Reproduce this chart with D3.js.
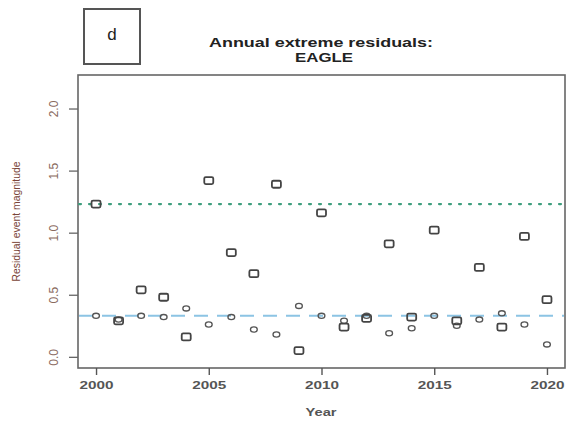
<!DOCTYPE html>
<html>
<head>
<meta charset="utf-8">
<script src="https://cdn.jsdelivr.net/npm/d3@7"></script>
<style>
  html, body { margin: 0; padding: 0; background: #fff; }
  svg { display: block; }
</style>
</head>
<body>
<div id="chart"></div>
<script>
// Annual extreme residuals at the EAGLE site, one value per year for each statistic
const years = [2000, 2001, 2002, 2003, 2004, 2005, 2006, 2007, 2008, 2009, 2010,
               2011, 2012, 2013, 2014, 2015, 2016, 2017, 2018, 2019, 2020];
const squareValues = [1.23, 0.29, 0.54, 0.48, 0.16, 1.42, 0.84, 0.67, 1.39, 0.05, 1.16,
                      0.24, 0.31, 0.91, 0.32, 1.02, 0.29, 0.72, 0.24, 0.97, 0.46];
const circleValues = [0.33, 0.30, 0.33, 0.32, 0.39, 0.26, 0.32, 0.22, 0.18, 0.41, 0.33,
                      0.29, 0.33, 0.19, 0.23, 0.33, 0.25, 0.30, 0.35, 0.26, 0.10];
const upperLevel = 1.23;   // dotted reference line
const lowerLevel = 0.33;   // dashed reference line
const xTicks = [2000, 2005, 2010, 2015, 2020];
const yTicks = [0.0, 0.5, 1.0, 1.5, 2.0];

const W = 567, H = 421;
const box = { left: 78, right: 565, top: 75, bottom: 368 };

const svg = d3.select("#chart").append("svg")
  .attr("width", W).attr("height", H);

const x = d3.scaleLinear().domain([1999.2, 2020.8]).range([box.left, box.right]);
const y = d3.scaleLinear().domain([-0.09, 2.27]).range([box.bottom, box.top]);

// panel letter
svg.append("rect")
  .attr("x", 84).attr("y", 9).attr("width", 56).attr("height", 55)
  .attr("fill", "none").attr("stroke", "#555").attr("stroke-width", 2);
svg.append("text")
  .attr("x", 112).attr("y", 40).attr("text-anchor", "middle")
  .attr("font-family", "Liberation Sans, Arial, sans-serif")
  .attr("font-size", 17).attr("fill", "#222").text("d");

// title
const titleFont = "Liberation Sans, Arial, sans-serif";
svg.append("text")
  .attr("x", 321).attr("y", 47).attr("text-anchor", "middle")
  .attr("font-family", titleFont).attr("font-weight", "bold")
  .attr("font-size", 12.5).attr("fill", "#222")
  .attr("textLength", 224).attr("lengthAdjust", "spacingAndGlyphs")
  .text("Annual extreme residuals:");
svg.append("text")
  .attr("x", 324).attr("y", 62).attr("text-anchor", "middle")
  .attr("font-family", titleFont).attr("font-weight", "bold")
  .attr("font-size", 12.5).attr("fill", "#222")
  .attr("textLength", 58).attr("lengthAdjust", "spacingAndGlyphs")
  .text("EAGLE");

// plot frame
svg.append("rect")
  .attr("x", box.left).attr("y", box.top)
  .attr("width", box.right - box.left).attr("height", box.bottom - box.top)
  .attr("fill", "none").attr("stroke", "#666").attr("stroke-width", 1.6);

// x axis
const xAxis = d3.axisBottom(x).tickValues(xTicks).tickFormat(d3.format("d"))
  .tickSize(7).tickPadding(6);
const gx = svg.append("g").attr("transform", `translate(0,${box.bottom})`).call(xAxis);
gx.select(".domain").remove();
gx.selectAll(".tick line").attr("stroke", "#555").attr("stroke-width", 1.4);
gx.selectAll(".tick text")
  .attr("font-family", titleFont).attr("font-weight", "bold")
  .attr("font-size", 11).attr("fill", "#555")
  .attr("textLength", 34).attr("lengthAdjust", "spacingAndGlyphs");

// y axis with vertical tick labels
const yAxis = d3.axisLeft(y).tickValues(yTicks).tickFormat(d3.format(".1f"))
  .tickSize(9).tickPadding(0);
const gy = svg.append("g").attr("transform", `translate(${box.left},0)`).call(yAxis);
gy.select(".domain").remove();
gy.selectAll(".tick line").attr("stroke", "#666").attr("stroke-width", 1.3);
gy.selectAll(".tick text")
  .attr("x", null).attr("dy", null)
  .attr("transform", "translate(-24,0) rotate(-90)")
  .attr("text-anchor", "middle")
  .attr("dominant-baseline", "central")
  .attr("font-family", "Liberation Sans Narrow, Arial Narrow, sans-serif")
  .attr("font-size", 12).attr("fill", "#8a6a5e");

// axis titles
svg.append("text")
  .attr("x", 321).attr("y", 416).attr("text-anchor", "middle")
  .attr("font-family", titleFont).attr("font-weight", "bold")
  .attr("font-size", 11).attr("fill", "#555")
  .attr("textLength", 31).attr("lengthAdjust", "spacingAndGlyphs")
  .text("Year");
svg.append("text")
  .attr("transform", `translate(20,${(box.top + box.bottom) / 2}) rotate(-90)`)
  .attr("text-anchor", "middle")
  .attr("font-family", "Liberation Sans Narrow, Arial Narrow, sans-serif")
  .attr("font-size", 11).attr("fill", "#7a4438")
  .attr("textLength", 120).attr("lengthAdjust", "spacingAndGlyphs")
  .text("Residual event magnitude");

// reference levels
svg.append("line")
  .attr("x1", box.left + 1).attr("x2", box.right - 1)
  .attr("y1", y(upperLevel)).attr("y2", y(upperLevel))
  .attr("stroke", "#3f9e7e").attr("stroke-width", 2.2)
  .attr("stroke-dasharray", "2 8").attr("stroke-linecap", "round");
svg.append("line")
  .attr("x1", box.left + 1).attr("x2", box.right - 1)
  .attr("y1", y(lowerLevel)).attr("y2", y(lowerLevel))
  .attr("stroke", "#8cc4e4").attr("stroke-width", 2)
  .attr("stroke-dasharray", "14 9");

// circles
svg.append("g").selectAll("ellipse")
  .data(years.map((yr, i) => ({ yr, v: circleValues[i] })))
  .join("ellipse")
  .attr("cx", d => x(d.yr)).attr("cy", d => y(d.v))
  .attr("rx", 3.4).attr("ry", 2.6)
  .attr("fill", "none").attr("stroke", "#555").attr("stroke-width", 1.3);

// squares
svg.append("g").selectAll("rect")
  .data(years.map((yr, i) => ({ yr, v: squareValues[i] })))
  .join("rect")
  .attr("x", d => x(d.yr) - 4.5).attr("y", d => y(d.v) - 3.5)
  .attr("width", 9).attr("height", 7).attr("rx", 1.5)
  .attr("fill", "none").attr("stroke", "#444").attr("stroke-width", 1.8);
</script>
</body>
</html>
